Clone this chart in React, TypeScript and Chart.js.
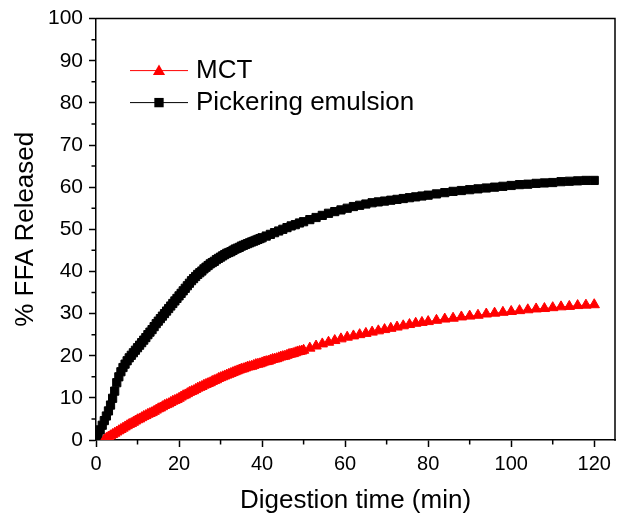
import React, { useEffect, useRef } from "react";
import { Chart, registerables } from "chart.js";

Chart.register(...registerables);

// ---- data ----
const mctTime = [
  2, 2.5, 3, 3.5, 4, 4.5, 5, 5.5, 6, 6.5,
  7, 7.5, 8, 8.5, 9, 9.5, 10, 10.5, 11, 11.5,
  12, 12.5, 13, 13.5, 14, 14.5, 15, 15.5, 16, 16.5,
  17, 17.5, 18, 18.5, 19, 19.5, 20, 20.5, 21, 21.5,
  22, 22.5, 23, 23.5, 24, 24.5, 25, 25.5, 26, 26.5,
  27, 27.5, 28, 28.5, 29, 29.5, 30, 30.5, 31, 31.5,
  32, 32.5, 33, 33.5, 34, 34.5, 35, 35.5, 36, 36.5,
  37, 37.5, 38, 38.5, 39, 39.5, 40, 40.5, 41, 41.5,
  42, 42.5, 43, 43.5, 44, 44.5, 45, 45.5, 46, 46.5,
  47, 47.5, 48, 48.5, 49, 49.5, 50,
  51.5, 53, 54.5, 56, 57.5, 59, 60.5, 62, 63.5, 65, 66.5, 68, 69.5, 71, 72.5, 74, 75.5, 77, 78.5, 80,
  82, 84, 86, 88, 90, 92, 94, 96, 98, 100, 102, 104, 106, 108, 110, 112, 114, 116, 118, 120,
];
const mctFFA = [
  0, 0.4, 0.7, 1.0, 1.3, 1.6, 1.9, 2.2, 2.5, 2.8,
  3.1, 3.4, 3.7, 3.9, 4.2, 4.5, 4.8, 5.0, 5.3, 5.6,
  5.8, 6.1, 6.3, 6.5, 6.8, 7.1, 7.4, 7.6, 7.9, 8.2,
  8.4, 8.6, 8.9, 9.2, 9.4, 9.6, 9.9, 10.2, 10.5, 10.7,
  11.0, 11.3, 11.5, 11.7, 12.0, 12.3, 12.5, 12.7, 13.0, 13.2,
  13.4, 13.6, 13.9, 14.1, 14.3, 14.6, 14.8, 15.0, 15.2, 15.4,
  15.6, 15.8, 16.0, 16.2, 16.4, 16.6, 16.8, 16.9, 17.1, 17.3,
  17.4, 17.5, 17.7, 17.9, 18.0, 18.1, 18.3, 18.5, 18.6, 18.7,
  18.9, 19.1, 19.2, 19.3, 19.5, 19.7, 19.8, 19.9, 20.1, 20.3,
  20.4, 20.5, 20.7, 20.9, 21.0, 21.1, 21.3,
  21.8, 22.3, 22.8, 23.2, 23.6, 24.0, 24.4, 24.7, 25.0, 25.3,
  25.6, 25.9, 26.2, 26.5, 26.8, 27.1, 27.4, 27.7, 27.9, 28.1,
  28.4, 28.7, 28.9, 29.2, 29.4, 29.6, 29.9, 30.1, 30.3, 30.5,
  30.7, 30.9, 31.1, 31.2, 31.4, 31.6, 31.7, 31.9, 32.0, 32.1,
];

const pickTime = [
  0, 0.5, 1, 1.5, 2, 2.5, 3, 3.5, 4, 4.5, 5, 5.5, 6, 6.5, 7, 7.5, 8, 8.5, 9, 9.5,
  10, 10.5, 11, 11.5, 12, 12.5, 13, 13.5, 14, 14.5, 15, 15.5, 16, 16.5, 17, 17.5, 18, 18.5, 19, 19.5,
  20, 20.5, 21, 21.5, 22, 22.5, 23, 23.5, 24, 24.5, 25, 25.5, 26, 26.5, 27, 27.5, 28, 28.5, 29, 29.5,
  30, 30.5, 31, 31.5, 32, 32.5, 33, 33.5, 34, 34.5, 35, 35.5, 36, 36.5, 37, 37.5, 38, 38.5, 39, 39.5,
  40, 41, 42, 43, 44, 45, 46, 47, 48, 49, 50,
  51.5, 53, 54.5, 56, 57.5, 59, 60.5, 62, 63.5, 65, 66.5, 68, 69.5, 71, 72.5, 74, 75.5, 77, 78.5, 80,
  82, 84, 86, 88, 90, 92, 94, 96, 98, 100, 102, 104, 106, 108, 110, 112, 114, 116, 118, 120,
];
const pickFFA = [
  0, 1.2, 2.4, 3.5, 4.6, 5.7, 6.9, 8.3, 9.9, 11.6, 13.6, 15.0, 16.2, 17.2, 18.0, 18.8, 19.5, 20.1, 20.7, 21.3,
  21.9, 22.5, 23.1, 23.7, 24.3, 25.0, 25.6, 26.2, 26.9, 27.6, 28.2, 28.8, 29.4, 30.0, 30.6, 31.2, 31.8, 32.4, 33.0, 33.6,
  34.2, 34.8, 35.4, 36.0, 36.6, 37.2, 37.8, 38.3, 38.8, 39.3, 39.7, 40.1, 40.6, 41.0, 41.4, 41.8, 42.1, 42.4, 42.8, 43.1,
  43.4, 43.7, 44.0, 44.3, 44.5, 44.7, 45.0, 45.3, 45.5, 45.7, 46.0, 46.2, 46.4, 46.6, 46.8, 47.0, 47.2, 47.4, 47.6, 47.8,
  48.0, 48.4, 48.8, 49.2, 49.6, 50.0, 50.4, 50.8, 51.1, 51.5, 51.8,
  52.3, 52.8, 53.3, 53.8, 54.2, 54.6, 55.0, 55.4, 55.7, 56.0, 56.3, 56.5, 56.7, 56.9, 57.1, 57.3, 57.5, 57.7, 57.9, 58.1,
  58.4, 58.7, 59.0, 59.2, 59.4, 59.6, 59.8, 60.0, 60.2, 60.4, 60.6, 60.7, 60.9, 61.0, 61.1, 61.3, 61.4, 61.5, 61.6, 61.6,
];

const seriesLabels = ["MCT", "Pickering emulsion"];
const xTitle = "Digestion time (min)";
const yTitle = "% FFA Released";
const xMinorTicks = [10, 30, 50, 70, 90, 110];
const yMinorTicks = [5, 15, 25, 35, 45, 55, 65, 75, 85, 95];

const FONT = "'Liberation Sans', Arial, Helvetica, sans-serif";

function drawMarker(ctx: CanvasRenderingContext2D, style: string, x: number, y: number, r: number) {
  ctx.beginPath();
  if (style === "triangle") {
    ctx.moveTo(x, y - r);
    ctx.lineTo(x + 0.866 * r, y + 0.5 * r);
    ctx.lineTo(x - 0.866 * r, y + 0.5 * r);
    ctx.closePath();
  } else {
    const s = r * Math.SQRT2;
    ctx.rect(x - s / 2, y - s / 2, s, s);
  }
  ctx.fill();
}

const framePlugin = {
  id: "frameLegend",
  afterDraw(chart: any) {
    const { ctx, chartArea } = chart;
    const { left, right, top, bottom } = chartArea;
    const xs = chart.scales.x;
    const ys = chart.scales.y;
    ctx.save();
    ctx.strokeStyle = "#000";
    ctx.lineWidth = 1.5;
    ctx.beginPath();
    ctx.moveTo(left - 0.75, top);
    ctx.lineTo(right, top);
    ctx.lineTo(right, bottom + 0.75);
    ctx.stroke();
    ctx.beginPath();
    for (const v of yMinorTicks) {
      const py = ys.getPixelForValue(v);
      ctx.moveTo(left - 4.5, py);
      ctx.lineTo(left, py);
    }
    for (const v of xMinorTicks) {
      const px = xs.getPixelForValue(v);
      ctx.moveTo(px, bottom);
      ctx.lineTo(px, bottom + 4.5);
    }
    ctx.stroke();

    // legend
    chart.data.datasets.forEach((ds: any, i: number) => {
      const ly = top + 52 + i * 32;
      const lx0 = left + 34;
      const lx1 = left + 92;
      ctx.strokeStyle = ds.borderColor;
      ctx.lineWidth = 1;
      ctx.beginPath();
      ctx.moveTo(lx0, ly);
      ctx.lineTo(lx1, ly);
      ctx.stroke();
      ctx.fillStyle = ds.backgroundColor;
      drawMarker(ctx, ds.pointStyle, (lx0 + lx1) / 2, ly + (ds.pointStyle === "triangle" ? 1 : 0), ds.pointStyle === "triangle" ? 7 : 6.6);
      ctx.fillStyle = "#000";
      ctx.font = `26px ${FONT}`;
      ctx.textBaseline = "middle";
      ctx.textAlign = "left";
      ctx.fillText(ds.label, left + 100, ly);
    });
    ctx.restore();
  },
};

export default function App() {
  const ref = useRef<HTMLCanvasElement | null>(null);
  useEffect(() => {
    if (!ref.current) return;
    const chart = new Chart(ref.current, {
      type: "line",
      data: {
        datasets: [
          {
            label: seriesLabels[0],
            data: mctTime.map((t, i) => ({ x: t, y: mctFFA[i] })),
            borderColor: "#ff0000",
            backgroundColor: "#ff0000",
            borderWidth: 1,
            pointStyle: "triangle",
            pointRadius: 6,
            pointBorderWidth: 1,
            pointBorderColor: "#ff0000",
            pointBackgroundColor: "#ff0000",
            tension: 0,
          },
          {
            label: seriesLabels[1],
            data: pickTime.map((t, i) => ({ x: t, y: pickFFA[i] })),
            borderColor: "#000000",
            backgroundColor: "#000000",
            borderWidth: 1,
            pointStyle: "rect",
            pointRadius: 5.8,
            pointBorderWidth: 1,
            pointBorderColor: "#000000",
            pointBackgroundColor: "#000000",
            tension: 0,
          },
        ],
      },
      options: {
        responsive: false,
        animation: false,
        events: [],
        layout: { padding: { top: 17, right: 3, left: 0, bottom: 0 } },
        plugins: {
          legend: { display: false },
          tooltip: { enabled: false },
          title: { display: false },
        },
        scales: {
          x: {
            type: "linear",
            min: 0,
            max: 125,
            ticks: {
              stepSize: 20,
              includeBounds: false,
              color: "#000",
              font: { family: FONT, size: 20 },
              padding: 5,
              maxRotation: 0,
            },
            grid: {
              display: true,
              drawOnChartArea: false,
              drawTicks: true,
              tickLength: 7,
              tickWidth: 1.5,
              tickColor: "#000",
            },
            border: { display: true, color: "#000", width: 1.5 },
            title: {
              display: true,
              text: xTitle,
              color: "#000",
              font: { family: FONT, size: 26 },
              padding: { top: 0, bottom: 6 },
            },
            afterFit: (s: any) => {
              s.height = 82;
            },
          },
          y: {
            type: "linear",
            min: 0,
            max: 100,
            ticks: {
              stepSize: 10,
              color: "#000",
              font: { family: FONT, size: 21 },
              padding: 6,
            },
            grid: {
              display: true,
              drawOnChartArea: false,
              drawTicks: true,
              tickLength: 7,
              tickWidth: 1.5,
              tickColor: "#000",
            },
            border: { display: true, color: "#000", width: 1.5 },
            title: {
              display: true,
              text: yTitle,
              color: "#000",
              font: { family: FONT, size: 26 },
              padding: { top: 10, bottom: 0 },
            },
            afterFit: (s: any) => {
              s.width = 96;
            },
          },
        },
      },
      plugins: [framePlugin],
    } as any);
    return () => chart.destroy();
  }, []);
  return (
    <div style={{ position: "absolute", left: 0, top: 0, width: 622, height: 522, background: "#fff" }}>
      <canvas ref={ref} width={622} height={522} style={{ display: "block" }} />
    </div>
  );
}
